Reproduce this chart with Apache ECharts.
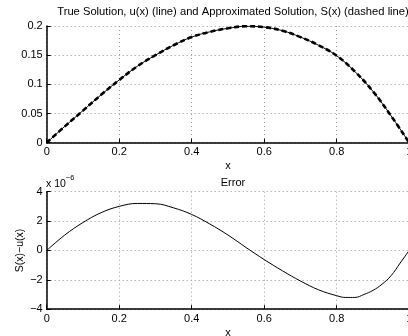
<!DOCTYPE html>
<html>
<head>
<meta charset="utf-8">
<script src="https://cdn.jsdelivr.net/npm/echarts@6/dist/echarts.min.js"></script>
<style>
html,body{margin:0;padding:0;background:#fff;}
#c{width:408px;height:336px;}
</style>
</head>
<body>
<div id="c"></div>
<script>
// x positions of the sampled points
var xValues = [0, 0.05, 0.1, 0.15, 0.2, 0.25, 0.3, 0.35, 0.4, 0.45, 0.5, 0.55, 0.6, 0.65, 0.7, 0.75, 0.8, 0.85, 0.9, 0.95, 1];
// true solution u(x)
var uValues = [0, 0.028, 0.055, 0.082, 0.1075, 0.131, 0.150, 0.167, 0.181, 0.190, 0.196, 0.1995, 0.198, 0.192, 0.181, 0.167, 0.149, 0.122, 0.088, 0.046, 0];
// approximated solution S(x)
var sValues = [0, 0.028, 0.055, 0.082, 0.1075, 0.131, 0.150, 0.167, 0.181, 0.190, 0.196, 0.1995, 0.198, 0.192, 0.181, 0.167, 0.149, 0.122, 0.088, 0.046, 0];
// error S(x)-u(x), in units of 1e-6
var errX = [0, 0.05, 0.1, 0.15, 0.2, 0.25, 0.3, 0.35, 0.4, 0.45, 0.5, 0.55, 0.6, 0.65, 0.7, 0.75, 0.8, 0.825, 0.85, 0.875, 0.9, 0.925, 0.95, 0.975, 1];
var errValues = [0, 1.05, 1.9, 2.57, 3.0, 3.2, 3.18, 2.9, 2.45, 1.8, 1.05, 0.2, -0.62, -1.38, -2.08, -2.68, -3.08, -3.2, -3.2, -3.0, -2.72, -2.3, -1.72, -0.86, 0];
var xTicks = ['0', '0.2', '0.4', '0.6', '0.8', '1'];
var topYTicks = ['0', '0.05', '0.1', '0.15', '0.2'];
var botYTicks = ['\u22124', '\u22122', '0', '2', '4'];

function pairs(xs, ys) { return xs.map(function (x, i) { return [x, ys[i]]; }); }

var FONT = 'Liberation Sans, Arial, Helvetica, sans-serif';
var gridLine = { show: true, lineStyle: { color: '#999', type: [1, 3], width: 1 } };
function xAxisDef(idx) {
  return {
    gridIndex: idx, type: 'value', min: 0, max: 1, interval: 0.2,
    name: 'x', nameLocation: 'middle', nameGap: 18,
    nameTextStyle: { color: '#000', fontSize: 11, fontFamily: FONT },
    axisLine: { show: true, onZero: false, lineStyle: { color: '#000', width: 1.5 } },
    axisTick: { show: true, inside: true, length: 4, lineStyle: { color: '#000' } },
    axisLabel: { color: '#000', fontSize: 11, fontFamily: FONT, margin: 4, hideOverlap: false,
      showMinLabel: true, showMaxLabel: true,
      formatter: function (v) { var i = Math.round(v / 0.2); return xTicks[i]; } },
    splitLine: gridLine
  };
}

var chart = echarts.init(document.getElementById('c'), null, { renderer: 'canvas' });
chart.setOption({
  backgroundColor: '#fff',
  animation: false,
  textStyle: { fontFamily: FONT },
  title: [
    { text: 'True Solution, u(x) (line) and Approximated Solution, S(x) (dashed line)',
      left: 228, top: 1, textAlign: 'center',
      textStyle: { fontSize: 11.2, fontWeight: 'normal', color: '#000', fontFamily: FONT, overflow: 'none', width: 400 } },
    { text: 'Error', left: 228, top: 172, textAlign: 'center',
      textStyle: { fontSize: 11, fontWeight: 'normal', color: '#000', fontFamily: FONT } }
  ],
  graphic: [
    { type: 'text', left: 46, top: 174,
      style: { text: '{a|x 10}{b|\u22126}', fill: '#000',
        rich: { a: { fontSize: 10.5, fontFamily: FONT, fill: '#000', verticalAlign: 'bottom' },
                b: { fontSize: 7.5, fontFamily: FONT, fill: '#000', verticalAlign: 'top', padding: [0, 0, 8, 0] } } } }
  ],
  grid: [
    { left: 46.7, top: 26, width: 362.5, height: 116.7, containLabel: false, outerBoundsMode: 'none' },
    { left: 46.7, top: 191.7, width: 362.5, height: 117.5, containLabel: false, outerBoundsMode: 'none' }
  ],
  xAxis: [xAxisDef(0), xAxisDef(1)],
  yAxis: [
    { gridIndex: 0, type: 'value', min: 0, max: 0.2, interval: 0.05,
      axisLine: { show: true, lineStyle: { color: '#000', width: 1.5 } },
      axisTick: { show: true, inside: true, length: 4, lineStyle: { color: '#000' } },
      axisLabel: { color: '#000', fontSize: 11, fontFamily: FONT, margin: 4, showMinLabel: true, showMaxLabel: true,
        formatter: function (v) { return topYTicks[Math.round(v / 0.05)]; } },
      splitLine: gridLine },
    { gridIndex: 1, type: 'value', min: -4, max: 4, interval: 2,
      name: 'S(x)\u2212u(x)', nameLocation: 'middle', nameGap: 21, nameRotate: 90, nameMoveOverlap: false,
      nameTextStyle: { color: '#000', fontSize: 10.5, fontFamily: FONT },
      axisLine: { show: true, lineStyle: { color: '#000', width: 1.5 } },
      axisTick: { show: true, inside: true, length: 4, lineStyle: { color: '#000' } },
      axisLabel: { color: '#000', fontSize: 11, fontFamily: FONT, margin: 4, showMinLabel: true, showMaxLabel: true,
        formatter: function (v) { return botYTicks[Math.round((v + 4) / 2)]; } },
      splitLine: gridLine }
  ],
  series: [
    { type: 'line', xAxisIndex: 0, yAxisIndex: 0, data: pairs(xValues, uValues), smooth: 0.4,
      showSymbol: false, lineStyle: { color: '#000', width: 1 }, z: 3 },
    { type: 'line', xAxisIndex: 0, yAxisIndex: 0, data: pairs(xValues, sValues), smooth: 0.4,
      showSymbol: false, lineStyle: { color: '#000', width: 2.6, type: [5, 3] }, z: 4 },
    { type: 'line', xAxisIndex: 1, yAxisIndex: 1, data: pairs(errX, errValues), smooth: 0.4,
      showSymbol: false, lineStyle: { color: '#000', width: 1 }, z: 3 }
  ]
});
</script>
</body>
</html>
